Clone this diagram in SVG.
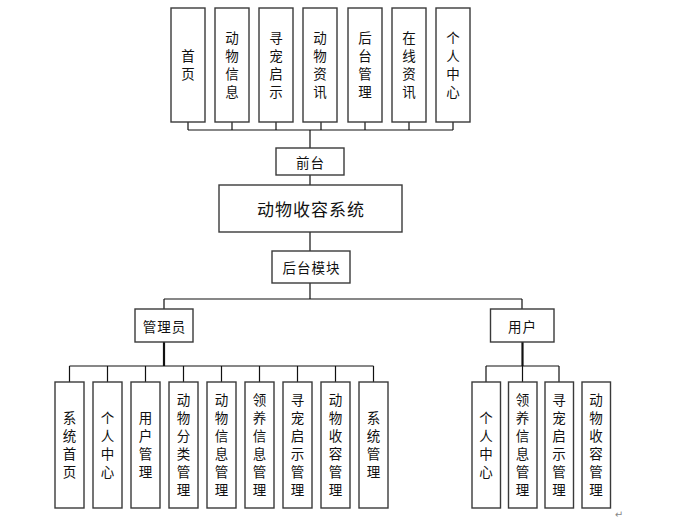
<svg xmlns="http://www.w3.org/2000/svg" width="685" height="523" viewBox="0 0 685 523">
<style>
.box{fill:#fff;stroke:#3a3a3a;stroke-width:1.4}
.t{font-family:"Noto Sans CJK SC","Noto Sans",sans-serif;font-size:13.5px;fill:#111;text-anchor:middle;dominant-baseline:central}
.v{writing-mode:vertical-rl;letter-spacing:4.5px}
.h{letter-spacing:1px}
.big{font-size:17px;letter-spacing:1px}
.ln{stroke:#111;stroke-width:1.2;fill:none}
.thick{stroke:#111;stroke-width:2.2;fill:none}
</style>
<rect width="685" height="523" fill="#fff"/>
<g id="connectors">
  <path class="ln" d="M188,122V130M232,122V130M276,122V130M321,122V130M365,122V130M409,122V130M453,122V130M188,130H453"/>
  <path class="ln" d="M310,130V148M310,175V185M310,232V251M310,283V299M164,299H522M164,299V309M522,299V309"/>
  <path class="thick" d="M164,342V366"/>
  <path class="ln" d="M69.5,366H373.5M69.5,366V382M107.5,366V382M145.5,366V382M183.5,366V382M221.5,366V382M259.5,366V382M297.5,366V382M335.5,366V382M373.5,366V382"/>
  <path class="thick" d="M522.5,342V366"/>
  <path class="ln" d="M486,366H559M486,366V382M522.5,366V382M559,366V382"/>
</g>
<g id="n_sy"><rect class="box" x="171" y="8" width="34" height="114"/><text class="t v" x="188" y="67">首页</text></g>
<g id="n_dwxx"><rect class="box" x="215" y="8" width="34" height="114"/><text class="t v" x="232" y="67">动物信息</text></g>
<g id="n_xcqs"><rect class="box" x="259" y="8" width="34" height="114"/><text class="t v" x="276" y="67">寻宠启示</text></g>
<g id="n_dwzx"><rect class="box" x="303" y="8" width="34" height="114"/><text class="t v" x="320" y="67">动物资讯</text></g>
<g id="n_htgl"><rect class="box" x="348" y="8" width="34" height="114"/><text class="t v" x="365" y="67">后台管理</text></g>
<g id="n_zxzx"><rect class="box" x="392" y="8" width="34" height="114"/><text class="t v" x="409" y="67">在线资讯</text></g>
<g id="n_grzx"><rect class="box" x="436" y="8" width="34" height="114"/><text class="t v" x="453" y="67">个人中心</text></g>
<g id="n_qt"><rect class="box" x="276" y="148" width="68" height="27"/><text class="t h" x="310.5" y="161.5">前台</text></g>
<g id="n_main"><rect class="box" x="219" y="185" width="183" height="47"/><text class="t big" x="311" y="208.5">动物收容系统</text></g>
<g id="n_htmk"><rect class="box" x="272" y="251" width="78" height="32"/><text class="t h" x="311.5" y="267">后台模块</text></g>
<g id="n_gly"><rect class="box" x="135" y="309" width="58" height="33"/><text class="t h" x="164.5" y="325.5">管理员</text></g>
<g id="n_yh"><rect class="box" x="490.5" y="309" width="63.5" height="33"/><text class="t h" x="522.5" y="325.5">用户</text></g>
<g id="a1"><rect class="box" x="55" y="382" width="29" height="126"/><text class="t v" x="69.5" y="447">系统首页</text></g>
<g id="a2"><rect class="box" x="93" y="382" width="29" height="126"/><text class="t v" x="107.5" y="447">个人中心</text></g>
<g id="a3"><rect class="box" x="131" y="382" width="29" height="126"/><text class="t v" x="145.5" y="447">用户管理</text></g>
<g id="a4"><rect class="box" x="169" y="382" width="29" height="126"/><text class="t v" x="183.5" y="447">动物分类管理</text></g>
<g id="a5"><rect class="box" x="207" y="382" width="29" height="126"/><text class="t v" x="221.5" y="447">动物信息管理</text></g>
<g id="a6"><rect class="box" x="245" y="382" width="29" height="126"/><text class="t v" x="259.5" y="447">领养信息管理</text></g>
<g id="a7"><rect class="box" x="283" y="382" width="29" height="126"/><text class="t v" x="297.5" y="447">寻宠启示管理</text></g>
<g id="a8"><rect class="box" x="321" y="382" width="29" height="126"/><text class="t v" x="335.5" y="447">动物收容管理</text></g>
<g id="a9"><rect class="box" x="359" y="382" width="29" height="126"/><text class="t v" x="373.5" y="447">系统管理</text></g>
<g id="u1"><rect class="box" x="472" y="382" width="28.5" height="126"/><text class="t v" x="486" y="447">个人中心</text></g>
<g id="u2"><rect class="box" x="508.5" y="382" width="28.5" height="126"/><text class="t v" x="522.5" y="447">领养信息管理</text></g>
<g id="u3"><rect class="box" x="545" y="382" width="28.5" height="126"/><text class="t v" x="559" y="447">寻宠启示管理</text></g>
<g id="u4"><rect class="box" x="582" y="382" width="28.5" height="126"/><text class="t v" x="596" y="447">动物收容管理</text></g>
<text x="619" y="514" font-family="DejaVu Sans,sans-serif" font-size="10" fill="#888" text-anchor="middle" dominant-baseline="central">↵</text>
</svg>
